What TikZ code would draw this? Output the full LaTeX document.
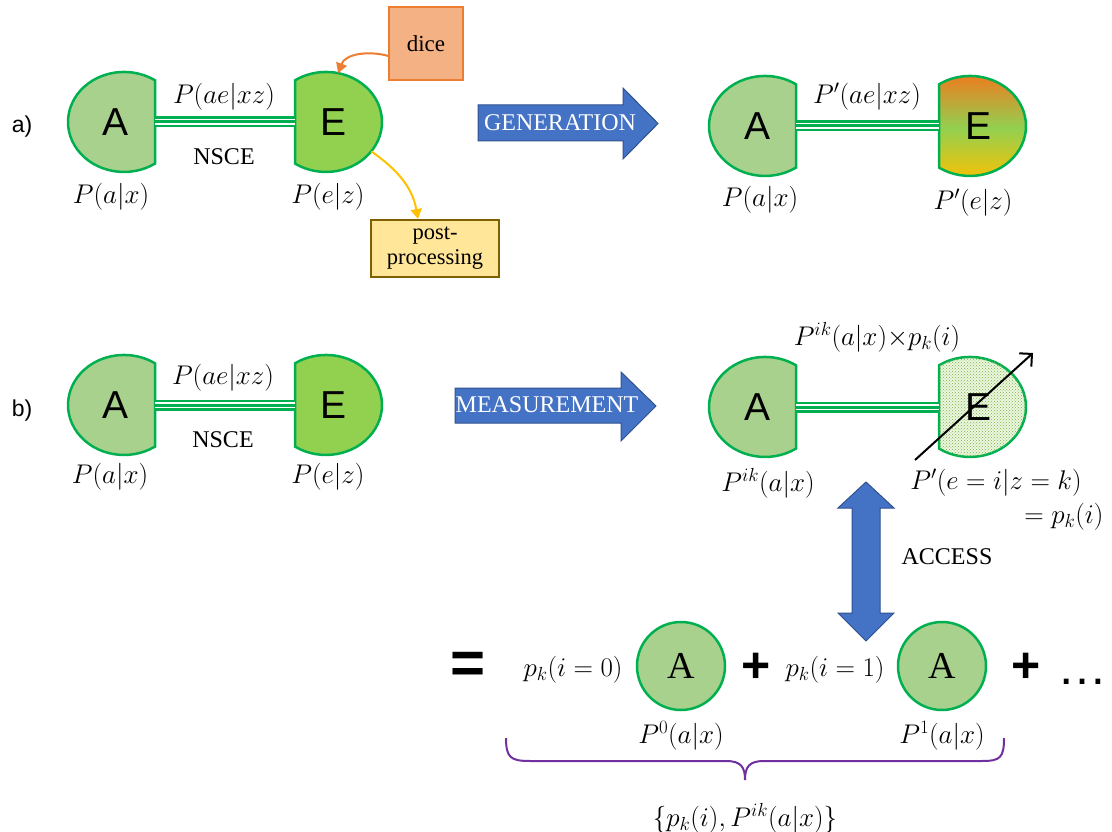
\RequirePackage{fix-cm}
\documentclass[tikz,border=0pt]{standalone}
\usepackage{fontspec}
\setmainfont{Liberation Serif}
\setsansfont{Liberation Sans}
\usepackage{tikz}
\usetikzlibrary{arrows.meta, positioning, shapes.geometric, patterns}
\definecolor{pgreen}{HTML}{00B050}
\definecolor{afill}{HTML}{A9D18E}
\definecolor{efill}{HTML}{92D050}
\definecolor{eorange}{HTML}{F07A1E}
\definecolor{eyellow}{HTML}{FFC000}
\definecolor{dicefill}{HTML}{F4B183}
\definecolor{diceline}{HTML}{ED7D31}
\definecolor{postfill}{HTML}{FFE699}
\definecolor{postline}{HTML}{7F6000}
\definecolor{bluefill}{HTML}{4472C4}
\definecolor{blueline}{HTML}{2F528F}
\definecolor{bracecol}{HTML}{7030A0}

\begin{document}
\begin{tikzpicture}[
    x=1pt, y=-1pt,
    party/.style={draw=pgreen, line width=2.5pt},
    letter/.style={font=\sffamily\fontsize{39}{40}\selectfont, inner sep=0pt},
    plainA/.style={fill=afill},
    plainE/.style={fill=efill},
    genE/.style={top color=eorange, bottom color=eyellow, middle color=efill},
    measE/.style={fill=efill!18, postaction={pattern=crosshatch dots, pattern color=efill!85!black}},
    partyA/.pic={
        \path[party, #1] (31,41.6) arc[start angle=56.4, end angle=303.6, x radius=56, y radius=50] -- cycle;
        \node[ellipse, minimum width=112pt, minimum height=100pt, inner sep=0pt, outer sep=0pt] (-body) at (0,0) {};
        \coordinate (-port) at (31,0);
        \node[letter] (-txt) at (-8,0) {A};
    },
    partyE/.pic={
        \path[party, #1] (-31,41.6) arc[start angle=123.6, end angle=-123.6, x radius=56, y radius=50] -- cycle;
        \node[ellipse, minimum width=112pt, minimum height=100pt, inner sep=0pt, outer sep=0pt] (-body) at (0,0) {};
        \coordinate (-port) at (-31,0);
        \node[letter] (-txt) at (8,0) {E};
    },
    nsce/.style={line width=11pt, draw=pgreen, postaction={draw=white, line width=6.5pt}, postaction={draw=pgreen, line width=3pt}},
    lbl/.style={font=\fontsize{27}{31}\selectfont, inner sep=1pt},
    txt/.style={font=\rmfamily\fontsize{24}{26}\selectfont, inner sep=1pt},
    tag/.style={font=\sffamily\fontsize{23}{26}\selectfont},
    box/.style={line width=2pt, inner sep=2pt, font=\rmfamily\fontsize{23}{25}\selectfont, align=center},
    blockarr/.style={fill=bluefill, draw=blueline, line width=1pt},
    arrtxt/.style={text=white, font=\rmfamily\fontsize{24}{26}\selectfont},
    coef/.style={circle, minimum size=88pt, inner sep=0pt, fill=afill, draw=pgreen, line width=2.5pt,
        font=\rmfamily\fontsize{38}{40}\selectfont},
    bigop/.style={font=\sffamily\bfseries\fontsize{50}{52}\selectfont, inner sep=0pt},
    measarr/.style={-{Straight Barb[length=9pt, width=18pt]}, line width=2pt, black}
]
\useasboundingbox (0,0) rectangle (1112,832);

% a) generation
\node[tag] (ta) at (22,127) {a)};
\pic (a1) at (124,122) {partyA=plainA};
\pic (e1) at (326,122) {partyE=plainE};
\draw[nsce] (a1-port) -- (e1-port);
\node[lbl] (pj1) at (224,97) {$P(ae|xz)$};
\node[txt] (ns1) at (224,157) {NSCE};
\node[lbl] (pa1) at (111,197) {$P(a|x)$};
\node[lbl] (pe1) at (328,197) {$P(e|z)$};

\node[box, fill=dicefill, draw=diceline, minimum width=74pt, minimum height=73pt] (dice) at (426,43.5) {dice};
\node[box, fill=postfill, draw=postline, minimum width=128pt, minimum height=57pt,
    font=\rmfamily\fontsize{22.5}{25}\selectfont] (post) at (435,248.5) {post-\\processing};
\draw[-{Triangle[length=10pt, width=11pt]}, line width=2pt, diceline] (dice.-162) to[out=165, in=70] (e1-body.76);
\draw[-{Triangle[length=10pt, width=11pt]}, line width=2pt, eyellow] (e1-body.-33) to[out=-35, in=100] (post.120);

\path[blockarr] (478,105) -- (623,105) -- (623,88) -- (658,123.5) -- (623,159) -- (623,141) -- (478,141) -- cycle;
\node[arrtxt] (gen) at (560,123) {GENERATION};

\pic (a2) at (765,126) {partyA=plainA};
\pic (e2) at (970,126) {partyE=genE};
\draw[nsce] (a2-port) -- (e2-port);
\node[lbl] (pj2) at (867,97) {$P'(ae|xz)$};
\node[lbl] (pa2) at (760,200) {$P(a|x)$};
\node[lbl] (pe2) at (973,203) {$P'(e|z)$};

% b) measurement
\node[tag] (tb) at (22,411) {b)};
\pic (a3) at (124,405) {partyA=plainA};
\pic (e3) at (326,405) {partyE=plainE};
\draw[nsce] (a3-port) -- (e3-port);
\node[lbl] (pj3) at (223,378) {$P(ae|xz)$};
\node[txt] (ns3) at (223,440) {NSCE};
\node[lbl] (pa3) at (110,477) {$P(a|x)$};
\node[lbl] (pe3) at (328,477) {$P(e|z)$};

\path[blockarr] (455,388) -- (621,388) -- (621,372) -- (656,406) -- (621,441) -- (621,423) -- (455,423) -- cycle;
\node[arrtxt] (meas) at (547,405) {MEASUREMENT};

\pic (a4) at (765,407) {partyA=plainA};
\pic (e4) at (970,407) {partyE=measE};
\draw[nsce] (a4-port) -- (e4-port);
\coordinate (mlo) at (915,460);
\coordinate (mhi) at (1033,353);
\draw[measarr] (mlo) -- (mhi);
\node[lbl] (pj4) at (877,337) {$P^{ik}(a|x){\times}p_k(i)$};
\node[lbl] (pa4) at (768,483) {$P^{ik}(a|x)$};
\node[lbl] (pe4) at (996,483) {$P'(e=i|z=k)$};
\node[lbl] (pe4b) at (1064,517) {$=p_k(i)$};

% access
\path[blockarr] (866,482) -- (894,508) -- (880,508) -- (880,613) -- (894,613) -- (866,641)
    -- (838,613) -- (852,613) -- (852,508) -- (838,508) -- cycle;
\node[txt] (acc) at (947,557) {ACCESS};

% decomposition
\node[bigop, font=\sffamily\bfseries\fontsize{60}{62}\selectfont] (eq) at (468,668) {=};
\node[lbl] (pk0) at (573,670) {$p_k(i=0)$};
\node[coef] (c0) at (681,666) {A};
\node[bigop] (plus1) at (756,668) {+};
\node[lbl] (pk1) at (835,670) {$p_k(i=1)$};
\node[coef] (c1) at (942,666) {A};
\node[bigop] (plus2) at (1026,668) {+};
\node[bigop, font=\sffamily\fontsize{50}{52}\selectfont] (more) at (1082,682) {…};
\node[lbl, below=9pt of c0] (p0) {$P^0(a|x)$};
\node[lbl, below=9pt of c1] (p1) {$P^1(a|x)$};

\draw[bracecol, line width=2pt] (506,738) .. controls (506,758) and (511,761) .. (530,761) -- (726,761)
    .. controls (741,761) and (745,767) .. (745,780) .. controls (745,767) and (749,761) .. (764,761)
    -- (982,761) .. controls (1000,761) and (1004,758) .. (1004,738);
\node[lbl] (set) at (745,818) {$\{p_k(i),P^{ik}(a|x)\}$};
\end{tikzpicture}
\end{document}
